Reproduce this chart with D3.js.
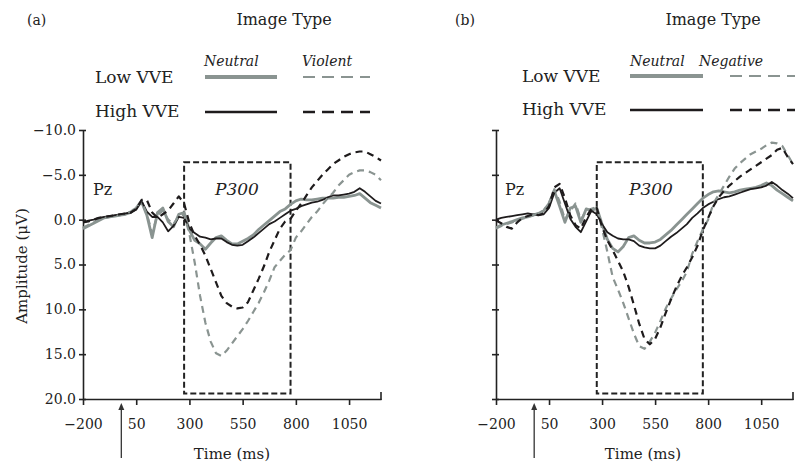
<!DOCTYPE html>
<html><head><meta charset="utf-8">
<script src="https://cdn.jsdelivr.net/npm/d3@7/dist/d3.min.js"></script>
<style>
body{margin:0;background:#fff;}
svg{display:block;font-family:"DejaVu Serif",serif;}
</style></head>
<body>
<svg id="chart" width="795" height="465"></svg>
<script>
// ---------------- DATA ----------------
const times = d3.range(-200, 1201, 25); // ms

const yTicks = [-10, -5, 0, 5, 10, 15, 20];
const xTicks = [-200, 50, 300, 550, 800, 1050];
const p300Window = [275, 775];
const stimulusOnset = -20;

// Panel (a): Neutral vs Violent
const aLowNeutral = [1.0,0.7,0.4,0.1,-0.2,-0.3,-0.4,-0.5,-0.6,-0.8,-1.3,-2.0,-0.5,2.0,-0.8,-1.3,0.2,0.8,-0.6,-0.8,
  1.2,2.3,2.7,3.3,2.6,2.0,1.8,2.3,2.7,2.7,2.4,2.1,1.7,1.1,0.6,0.1,-0.4,-0.9,-1.2,-1.7,
  -2.1,-2.3,-2.2,-2.2,-2.3,-2.4,-2.4,-2.4,-2.5,-2.5,-2.6,-2.7,-2.9,-2.4,-1.9,-1.6,-1.3];
const aHighNeutral = [0.3,0.1,0.0,-0.2,-0.3,-0.4,-0.5,-0.6,-0.7,-0.8,-1.1,-2.1,-0.9,-0.3,-0.3,0.3,1.3,0.7,-0.3,-0.2,
  1.0,1.5,1.9,2.0,2.2,2.1,2.1,2.5,2.8,2.9,2.8,2.4,2.0,1.5,1.0,0.5,0.2,-0.2,-0.6,-1.0,
  -1.2,-1.5,-1.7,-1.9,-2.0,-2.2,-2.5,-2.7,-2.7,-2.8,-2.9,-3.1,-3.5,-3.1,-2.6,-2.1,-1.8];
const aLowViolent = [0.9,0.6,0.3,0.0,-0.2,-0.3,-0.4,-0.5,-0.7,-0.9,-1.4,-2.1,-0.6,1.5,-0.5,-1.0,0.0,0.5,-0.4,-0.6,
  1.6,4.8,8.5,11.5,13.6,14.9,15.2,14.6,13.8,13.0,12.2,11.3,10.3,9.3,8.1,6.8,5.3,4.6,3.9,3.4,
  2.0,1.3,0.5,-0.3,-0.9,-1.7,-2.4,-3.0,-3.8,-4.4,-5.0,-5.3,-5.5,-5.5,-5.3,-5.0,-4.4];
const aHighViolent = [0.3,0.2,0.0,-0.2,-0.3,-0.4,-0.5,-0.6,-0.7,-0.8,-1.2,-2.2,-2.2,-0.8,-0.2,-0.6,-1.0,-1.8,-2.6,-1.8,
  0.4,1.8,2.8,4.0,5.5,7.0,8.5,9.3,9.7,9.9,9.8,9.2,7.9,6.6,5.2,3.6,2.3,1.0,0.2,-0.1,
  -1.0,-1.8,-2.7,-3.6,-4.3,-5.0,-5.6,-6.2,-6.6,-7.0,-7.3,-7.5,-7.6,-7.6,-7.3,-7.0,-6.6];

// Panel (b): Neutral vs Negative
const bLowNeutral = [0.9,0.6,0.4,0.2,0.0,-0.2,-0.3,-0.5,-0.7,-1.0,-1.8,-3.2,-1.5,0.3,-1.3,-1.5,0.3,-1.2,-1.0,-1.3,
  0.5,2.2,3.2,3.6,3.0,2.0,1.8,2.3,2.6,2.6,2.5,2.2,1.7,1.2,0.6,0.0,-0.6,-1.2,-1.8,-2.4,
  -2.8,-3.1,-3.2,-3.1,-3.0,-3.1,-3.3,-3.4,-3.5,-3.6,-3.8,-4.1,-3.8,-3.3,-2.9,-2.5,-2.1];
const bHighNeutral = [0.0,-0.2,-0.3,-0.4,-0.5,-0.6,-0.7,-0.6,-0.5,-0.6,-1.3,-3.0,-3.5,-1.8,-0.1,0.8,1.4,0.2,-1.0,-0.6,
  0.5,1.4,1.8,2.1,2.2,2.2,2.4,2.9,3.1,3.2,3.2,2.9,2.4,1.9,1.5,1.0,0.5,-0.2,-0.7,-1.3,
  -1.7,-2.0,-2.3,-2.5,-2.6,-2.8,-3.0,-3.2,-3.4,-3.5,-3.6,-3.8,-4.2,-3.8,-3.3,-2.9,-2.4];
const bLowNegative = [1.0,0.7,0.5,0.3,0.1,-0.1,-0.3,-0.5,-0.7,-1.0,-1.9,-3.4,-2.0,0.0,-1.0,-1.8,0.0,-1.0,-1.2,-1.4,
  1.0,3.6,6.4,7.8,9.3,11.0,12.7,14.1,14.4,13.6,12.6,11.3,9.9,8.8,7.8,6.9,5.8,3.8,2.4,1.1,
  0.0,-1.8,-2.8,-3.8,-4.8,-5.7,-6.3,-6.8,-7.3,-7.6,-7.9,-8.3,-8.6,-8.5,-8.2,-7.2,-6.2];
const bHighNegative = [0.1,0.4,0.8,1.0,0.3,-0.2,-0.4,-0.6,-0.5,-0.7,-1.5,-3.6,-4.0,-2.4,-0.5,0.6,1.0,-0.3,-1.2,-1.3,
  0.8,2.3,3.4,4.6,5.8,7.5,9.5,11.6,13.3,13.9,13.3,12.0,10.4,8.9,7.5,6.3,5.3,4.2,2.9,1.2,
  -0.2,-1.5,-2.5,-3.2,-3.8,-4.3,-4.8,-5.2,-5.6,-6.0,-6.4,-6.8,-7.2,-7.8,-8.0,-7.0,-6.2];

// ---------------- STYLE ----------------
const GRAY = "#8a9491", BLACK = "#1e1b1c";
const svg = d3.select("#chart");

const panels = [
  {tag:"(a)", tagX:27, x0:83, x1:381, legTextX:95, legNeutral:[205,277], legDash:[303,370],
   imgTypeX:284, neutralX:204, secondX:302, secondName:"Violent", showYLabels:true,
   lowY:77, highY:112, pzX:93, p300X:237, timeX:232,
   series:[
    {v:aLowNeutral, c:GRAY, w:2.8, dash:null},
    {v:aHighNeutral, c:BLACK, w:1.8, dash:null},
    {v:aLowViolent, c:GRAY, w:2.2, dash:"7,5"},
    {v:aHighViolent, c:BLACK, w:2.2, dash:"7,5"}]},
  {tag:"(b)", tagX:455, x0:496, x1:793, legTextX:522, legNeutral:[630,703], legDash:[730,800],
   imgTypeX:713, neutralX:630, secondX:699, secondName:"Negative", showYLabels:false,
   lowY:76, highY:110, pzX:505, p300X:651, timeX:643,
   series:[
    {v:bLowNeutral, c:GRAY, w:2.8, dash:null},
    {v:bHighNeutral, c:BLACK, w:1.8, dash:null},
    {v:bLowNegative, c:GRAY, w:2.2, dash:"7,5"},
    {v:bHighNegative, c:BLACK, w:2.2, dash:"7,5"}]}
];

panels.forEach(p => {
  const x = d3.scaleLinear().domain([-200, 1200]).range([p.x0, p.x1]);
  const y = d3.scaleLinear().domain([-10, 20]).range([130, 399]);
  const g = svg.append("g");

  // header & legend
  g.append("text").attr("x", p.tagX).attr("y", 25).attr("font-size", 14).attr("fill", "#222").text(p.tag);
  g.append("text").attr("x", p.imgTypeX).attr("y", 25).attr("text-anchor","middle").attr("font-size", 16).attr("fill","#222").text("Image Type");
  g.append("text").attr("x", p.neutralX).attr("y", 66).attr("font-size", 14).attr("font-style","italic").attr("fill","#222").text("Neutral");
  g.append("text").attr("x", p.secondX).attr("y", 66).attr("font-size", 14).attr("font-style","italic").attr("fill","#222").text(p.secondName);
  g.append("text").attr("x", p.legTextX).attr("y", p.lowY+6).attr("font-size", 17).attr("fill","#222").text("Low VVE");
  g.append("text").attr("x", p.legTextX).attr("y", p.highY+5).attr("font-size", 17).attr("fill","#222").text("High VVE");
  const leg = [
    {y:p.lowY, r:p.legNeutral, c:GRAY, w:4, dash:null},
    {y:p.lowY, r:p.legDash, c:GRAY, w:2, dash:"12,7"},
    {y:p.highY, r:p.legNeutral, c:BLACK, w:2.5, dash:null},
    {y:p.highY, r:p.legDash, c:BLACK, w:2.5, dash:"12,7"}];
  leg.forEach(l => g.append("line").attr("x1", l.r[0]).attr("x2", l.r[1]).attr("y1", l.y).attr("y2", l.y)
    .attr("stroke", l.c).attr("stroke-width", l.w).attr("stroke-dasharray", l.dash));

  // axes
  const yAxis = d3.axisLeft(y).tickValues(yTicks).tickSizeInner(4).tickSizeOuter(0)
    .tickFormat(p.showYLabels ? d3.format(".1f") : "");
  const ya = g.append("g").attr("transform", `translate(${p.x0},0)`).call(yAxis);
  const xAxis = d3.axisBottom(x).tickValues(xTicks).tickSizeInner(6).tickSizeOuter(0).tickFormat(d3.format("d"));
  const xa = g.append("g").attr("transform", `translate(0,${y(20)})`).call(xAxis);
  [ya, xa].forEach(a => {
    a.select(".domain").attr("stroke", "#222").attr("stroke-width", 1.6);
    a.selectAll(".tick line").attr("stroke", "#222").attr("stroke-width", 1.6);
    a.selectAll("text").attr("font-family", "DejaVu Serif").attr("font-size", 14).attr("fill", "#222");
  });
  ya.selectAll(".tick line").attr("x2", 3).attr("x1", -4);
  ya.selectAll("text").attr("x", -7);
  xa.selectAll("text").attr("dy", "1.5em");
  // end tick on x axis
  g.append("line").attr("x1", x(1200)).attr("x2", x(1200)).attr("y1", y(20)-7).attr("y2", y(20)+1)
    .attr("stroke", "#222").attr("stroke-width", 1.6);

  // axis labels
  g.append("text").attr("x", p.timeX).attr("y", 459).attr("text-anchor","middle").attr("font-size", 15).attr("fill","#222").text("Time (ms)");
  if (p.showYLabels) {
    g.append("text").attr("transform", "translate(27,266) rotate(-90)").attr("text-anchor","middle")
      .attr("font-size", 15).attr("fill","#222").text("Amplitude (μV)");
  }

  // stimulus arrow
  g.append("line").attr("x1", x(stimulusOnset)).attr("x2", x(stimulusOnset)).attr("y1", 458).attr("y2", 408)
    .attr("stroke", "#333").attr("stroke-width", 1.3);
  g.append("path").attr("d", d3.line()([[x(stimulusOnset)-3, 410],[x(stimulusOnset), 403],[x(stimulusOnset)+3, 410]]) + "Z")
    .attr("fill", "#333");

  // P300 window box
  g.append("rect").attr("x", x(p300Window[0])).attr("y", y(-6.4))
    .attr("width", x(p300Window[1]) - x(p300Window[0])).attr("height", y(19.4) - y(-6.4))
    .attr("fill", "none").attr("stroke", "#222").attr("stroke-width", 2).attr("stroke-dasharray", "6,3");

  // labels inside
  g.append("text").attr("x", p.pzX).attr("y", 195).attr("font-size", 16).attr("fill","#222").text("Pz");
  g.append("text").attr("x", p.p300X).attr("y", 195).attr("text-anchor","middle").attr("font-size", 17)
    .attr("font-style","italic").attr("fill","#222").text("P300");

  // ERP curves
  const line = d3.line().x((d, i) => x(times[i])).y(d => y(d));
  p.series.forEach(s => {
    g.append("path").datum(s.v).attr("d", line).attr("fill", "none")
      .attr("stroke", s.c).attr("stroke-width", s.w).attr("stroke-dasharray", s.dash)
      .attr("stroke-linejoin", "round");
  });
});
</script>
</body></html>
